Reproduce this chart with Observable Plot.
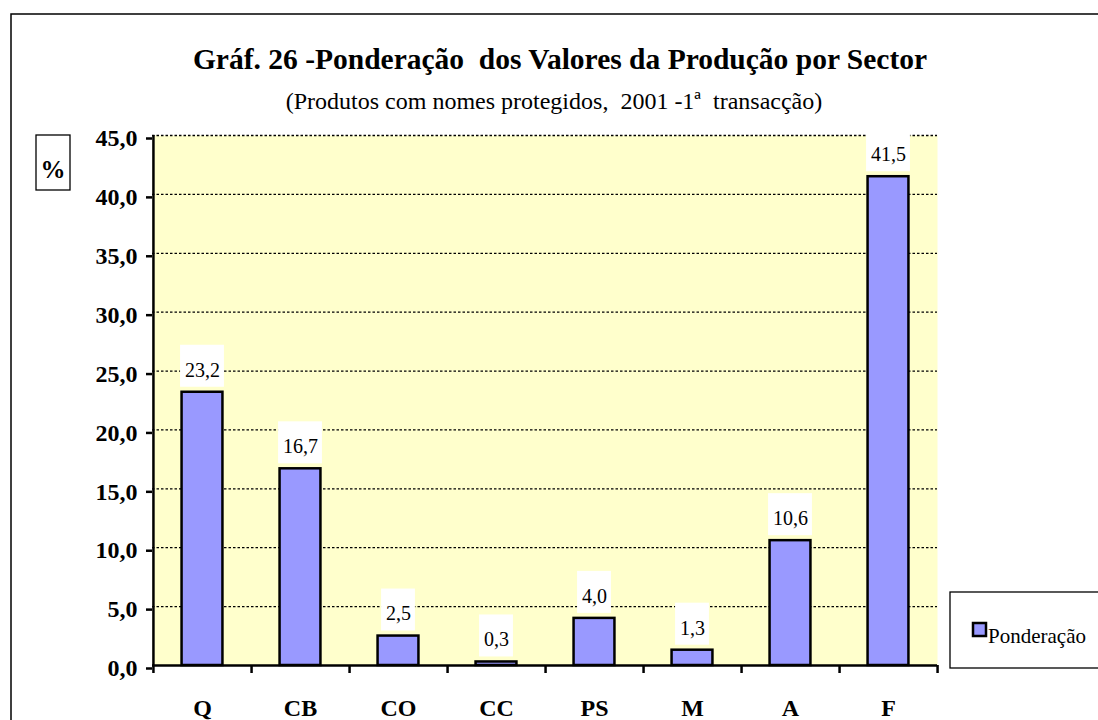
<!DOCTYPE html>
<html>
<head>
<meta charset="utf-8">
<script src="https://cdn.jsdelivr.net/npm/d3@7"></script>
<script src="https://cdn.jsdelivr.net/npm/@observablehq/plot@0.6"></script>
<style>
  html, body { margin: 0; padding: 0; background: white; }
  #chart { position: relative; width: 1098px; height: 720px; overflow: hidden; }
</style>
</head>
<body>
<div id="chart"></div>
<script>
const categories = ["Q", "CB", "CO", "CC", "PS", "M", "A", "F"];
const values = [23.2, 16.7, 2.5, 0.3, 4.0, 1.3, 10.6, 41.5];
const seriesName = "Ponderação";
const yTicks = [0, 5, 10, 15, 20, 25, 30, 35, 40, 45];
const titleText = "Gráf. 26 -Ponderação  dos Valores da Produção por Sector";
const subtitleText = "(Produtos com nomes protegidos,  2001 -1ª  transacção)";
const unitText = "%";

const data = categories.map((c, i) => ({cat: c, value: values[i], label: values[i].toFixed(1).replace(".", ",")}));
const serif = "'Liberation Serif', 'Times New Roman', 'DejaVu Serif', serif";

const W = 1098, H = 720;
const mL = 152, mR = 161, mT = 135, mB = 55;
const bw = (W - mL - mR) / categories.length;

const plot = Plot.plot({
  width: W,
  height: H,
  marginLeft: mL,
  marginRight: mR,
  marginTop: mT,
  marginBottom: mB,
  style: {fontFamily: serif, background: "transparent", overflow: "visible"},
  x: {domain: categories, padding: 0},
  y: {domain: [0, 45]},
  marks: [
    Plot.frame({fill: "#FFFFCC", stroke: null}),
    Plot.ruleY(yTicks.filter(d => d > 0), {stroke: "#000", strokeWidth: 1.3, strokeDasharray: "2.5,2"}),
    Plot.barY(data.filter(d => d.label.length > 3), {x: "cat", y1: "value", y2: "value", fill: "white", insetTop: -47, insetBottom: 5, insetLeft: (bw - 44) / 2, insetRight: (bw - 44) / 2}),
    Plot.barY(data.filter(d => d.label.length <= 3), {x: "cat", y1: "value", y2: "value", fill: "white", insetTop: -47, insetBottom: 5, insetLeft: (bw - 34) / 2, insetRight: (bw - 34) / 2}),
    Plot.text(data, {x: "cat", y: "value", text: "label", dy: -22, fontSize: 20, fill: "#000", fontFamily: serif}),
    Plot.barY(data, {x: "cat", y: "value", fill: "#9999FF", stroke: "#000", strokeWidth: 2.5, insetLeft: (bw - 41) / 2, insetRight: (bw - 41) / 2}),
    Plot.ruleY([0], {stroke: "#000", strokeWidth: 2.5}),
    Plot.ruleX([categories[0]], {x: d => d, y1: 45, y2: 0, dx: -bw / 2, insetBottom: -8, stroke: "#000", strokeWidth: 2.5}),
    Plot.ruleX(categories, {x: d => d, y1: 0, y2: 0, dx: bw / 2, insetBottom: -8, stroke: "#000", strokeWidth: 2.5}),
    Plot.axisY({ticks: yTicks, tickFormat: d => d.toFixed(1).replace(".", ","), tickSize: 6, tickPadding: 9, strokeWidth: 2.5, fontSize: 24, fontWeight: "bold", dy: 3, label: null, fontFamily: serif}),
    Plot.axisX({tickSize: 0, tickPadding: 33, fontSize: 24, fontWeight: "bold", label: null, fontFamily: serif})
  ]
});

const svg = d3.select(plot);
// outer frame
svg.insert("rect", ":first-child").attr("x", 11).attr("y", 14).attr("width", 1200).attr("height", 800)
  .attr("fill", "none").attr("stroke", "#000").attr("stroke-width", 1.5);

// title + subtitle
svg.append("text").attr("x", 560).attr("y", 69).attr("text-anchor", "middle")
  .attr("font-family", serif).attr("font-size", 29.5).attr("font-weight", "bold").attr("fill", "#000")
  .style("white-space", "pre").text(titleText);
svg.append("text").attr("x", 554).attr("y", 109).attr("text-anchor", "middle")
  .attr("font-family", serif).attr("font-size", 24).attr("fill", "#000")
  .style("white-space", "pre").text(subtitleText);

// % unit box
svg.append("rect").attr("x", 36).attr("y", 135).attr("width", 34).attr("height", 55)
  .attr("fill", "white").attr("stroke", "#000").attr("stroke-width", 1.3);
svg.append("text").attr("x", 53).attr("y", 178).attr("text-anchor", "middle")
  .attr("font-family", serif).attr("font-size", 25).attr("font-weight", "bold").attr("fill", "#000").text(unitText);

// legend
svg.append("rect").attr("x", 950).attr("y", 592).attr("width", 200).attr("height", 76)
  .attr("fill", "white").attr("stroke", "#000").attr("stroke-width", 1.3);
svg.append("rect").attr("x", 973).attr("y", 623).attr("width", 13).attr("height", 13)
  .attr("fill", "#9999FF").attr("stroke", "#000").attr("stroke-width", 2.5);
svg.append("text").attr("x", 988).attr("y", 643).attr("text-anchor", "start")
  .attr("font-family", serif).attr("font-size", 21).attr("fill", "#000").text(seriesName);

document.getElementById("chart").appendChild(plot);
</script>
</body>
</html>
